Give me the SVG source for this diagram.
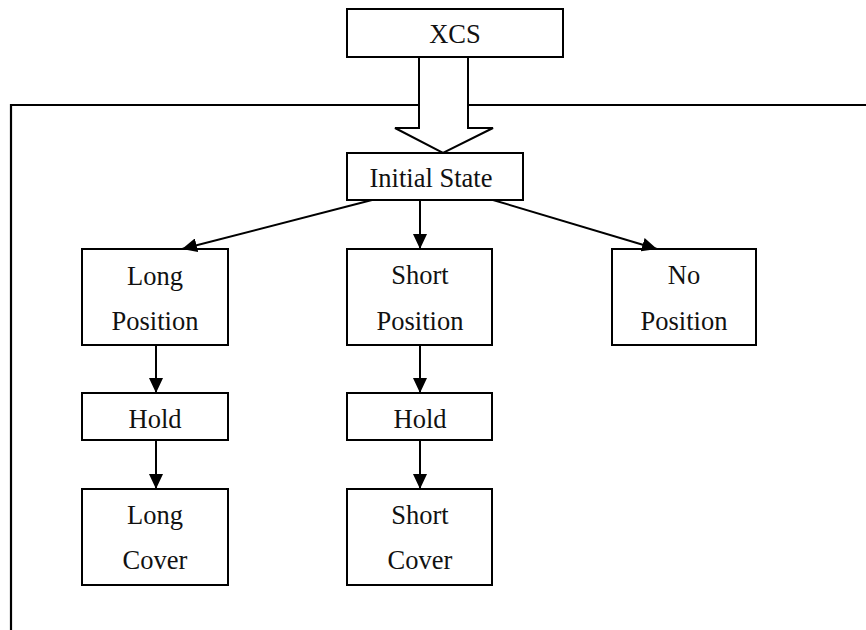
<svg xmlns="http://www.w3.org/2000/svg" width="866" height="630" viewBox="0 0 866 630">
  <style>
    .box { fill: #ffffff; stroke: #000000; stroke-width: 2; }
    .lbl { font-family: "Liberation Serif", "Times New Roman", serif; font-size: 26.5px; fill: #111111; text-anchor: middle; }
    .edge { stroke: #000000; stroke-width: 2; fill: none; marker-end: url(#head); }
    .frame { stroke: #000000; stroke-width: 2.2; fill: none; }
  </style>
  <defs>
    <marker id="head" viewBox="0 0 15 14" refX="15" refY="7" markerWidth="15" markerHeight="14" markerUnits="userSpaceOnUse" orient="auto">
      <path d="M0,0 L15,7 L0,14 Z" fill="#000000"/>
    </marker>
  </defs>
  <rect width="866" height="630" fill="#ffffff"/>

  <!-- enclosing frame -->
  <polyline class="frame" points="866,105 11,105 11,630"/>

  <!-- top node -->
  <g id="xcs">
    <rect class="box" x="347" y="9" width="216" height="48"/>
    <text class="lbl" x="455" y="43">XCS</text>
  </g>

  <!-- block arrow into the frame -->
  <g id="entry-arrow">
    <polygon points="419,57 468,57 468,128 493,128 443,153 395,128 419,128" fill="#ffffff" stroke="#000000" stroke-width="2" stroke-linejoin="miter"/>
  </g>

  <g id="initial-state">
    <rect class="box" x="347" y="153" width="176" height="47"/>
    <text class="lbl" x="431" y="187">Initial State</text>
  </g>

  <g id="long-position">
    <rect class="box" x="82" y="249" width="146" height="96"/>
    <text class="lbl" x="155" y="285">Long</text>
    <text class="lbl" x="155" y="330">Position</text>
  </g>

  <g id="short-position">
    <rect class="box" x="347" y="249" width="145" height="96"/>
    <text class="lbl" x="420" y="284">Short</text>
    <text class="lbl" x="420" y="330">Position</text>
  </g>

  <g id="no-position">
    <rect class="box" x="612" y="249" width="144" height="96"/>
    <text class="lbl" x="684" y="284">No</text>
    <text class="lbl" x="684" y="330">Position</text>
  </g>

  <g id="long-hold">
    <rect class="box" x="82" y="393" width="146" height="47"/>
    <text class="lbl" x="155" y="428">Hold</text>
  </g>

  <g id="short-hold">
    <rect class="box" x="347" y="393" width="145" height="47"/>
    <text class="lbl" x="420" y="428">Hold</text>
  </g>

  <g id="long-cover">
    <rect class="box" x="82" y="489" width="146" height="96"/>
    <text class="lbl" x="155" y="524">Long</text>
    <text class="lbl" x="155" y="569">Cover</text>
  </g>

  <g id="short-cover">
    <rect class="box" x="347" y="489" width="145" height="96"/>
    <text class="lbl" x="420" y="524">Short</text>
    <text class="lbl" x="420" y="569">Cover</text>
  </g>

  <!-- connectors -->
  <g id="connectors">
    <line class="edge" x1="372" y1="200" x2="182" y2="249"/>
    <line class="edge" x1="420" y1="200" x2="420" y2="249"/>
    <line class="edge" x1="493" y1="200" x2="657" y2="249"/>
    <line class="edge" x1="156" y1="345" x2="156" y2="393"/>
    <line class="edge" x1="156" y1="440" x2="156" y2="489"/>
    <line class="edge" x1="420" y1="345" x2="420" y2="393"/>
    <line class="edge" x1="420" y1="440" x2="420" y2="489"/>
  </g>
</svg>
